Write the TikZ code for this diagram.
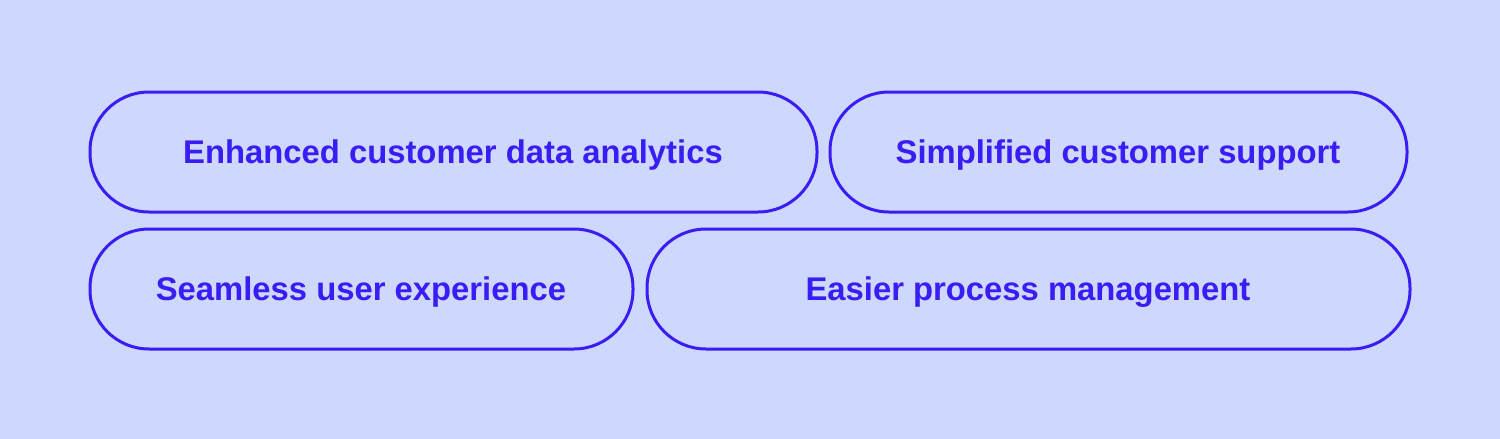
\documentclass[tikz,border=0pt]{standalone}
\usepackage{fontspec}
\setmainfont{Liberation Sans}
\definecolor{bg}{HTML}{CDD8FC}
\definecolor{ink}{HTML}{3A1CF5}
\begin{document}
\begin{tikzpicture}[x=0.5pt,y=-0.5pt,
  pill/.style={draw=ink,line width=1.5pt,rounded corners=29.5pt},
  lbl/.style={text=ink,font=\bfseries\fontsize{16.4}{18}\selectfont}]
\fill[bg] (0,0) rectangle (1500,439);
\useasboundingbox (0,0) rectangle (1500,439);
\draw[pill] (90,92) rectangle (817,212);
\draw[pill] (830,92) rectangle (1407,212);
\draw[pill] (90,229) rectangle (633,349);
\draw[pill] (647,229) rectangle (1410,349);
\node[lbl] (a) at (453,155) {Enhanced customer data analytics};
\node[lbl] (b) at (1118,155) {Simplified customer support};
\node[lbl] (c) at (361,292) {Seamless user experience};
\node[lbl] (d) at (1028,292) {Easier process management};
\end{tikzpicture}
\end{document}
